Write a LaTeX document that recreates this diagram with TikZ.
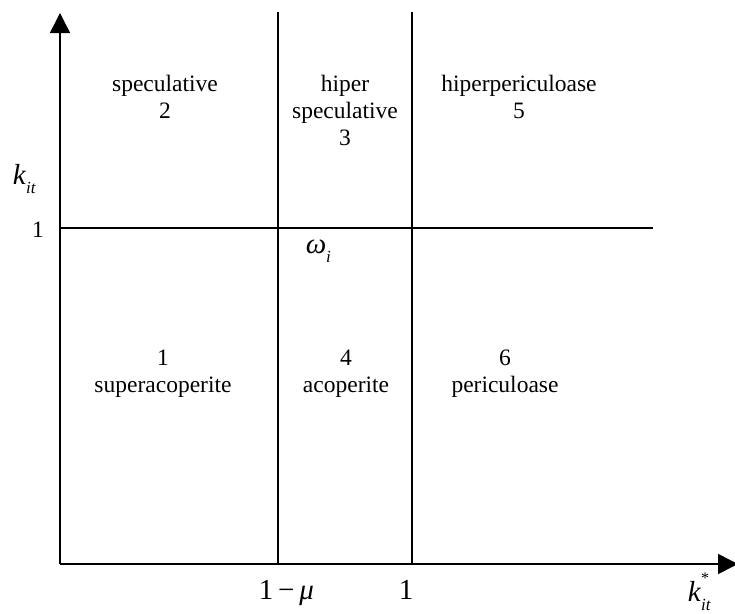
\documentclass[tikz,border=0pt]{standalone}
\usepackage{fontspec}
\setmainfont{Liberation Serif}
\usetikzlibrary{arrows.meta}

\newcommand{\lowsub}[1]{\raisebox{-0.32em}{\fontsize{17}{17}\selectfont\itshape #1}}
\newcommand{\highsup}[1]{\raisebox{0.62em}{\fontsize{16}{16}\selectfont #1}}

\begin{document}
\begin{tikzpicture}[x=1pt, y=-1pt, line width=1.5pt,
    zone/.style={align=center, anchor=north, inner sep=0pt, font=\fontsize{23.5}{27}\selectfont},
    axlabel/.style={inner sep=0pt, anchor=base, font=\fontsize{29}{31}\selectfont},
    axis/.style={-{Triangle[length=20pt,width=20pt]}}]
  \useasboundingbox (0,0) rectangle (735,613);

  % axes
  \coordinate (O) at (60,564);
  \coordinate (ytop) at (60,13);
  \coordinate (xend) at (738,564);
  \draw[axis] (O) -- (ytop);
  \draw[axis] (O) -- (xend);

  % region borders
  \coordinate (a1) at (278,12);
  \coordinate (a2) at (278,564);
  \coordinate (b1) at (412,12);
  \coordinate (b2) at (412,564);
  \coordinate (h1) at (60,228);
  \coordinate (h2) at (653,228);
  \draw (a1) -- (a2);
  \draw (b1) -- (b2);
  \draw (h1) -- (h2);

  % regions
  \node[zone] (r2) at (165,74) {speculative\\2};
  \node[zone] (r3) at (345,74) {hiper\\speculative\\3};
  \node[zone] (r5) at (519,74) {hiperpericuloase\\5};
  \node[zone] (r1) at (163,349) {1\\superacoperite};
  \node[zone] (r4) at (346,349) {4\\acoperite};
  \node[zone] (r6) at (505,349) {6\\periculoase};

  % axis labels
  \node[axlabel, anchor=base west] (ky) at (12,184) {\textit{k}\lowsub{it}};
  \node[axlabel, font=\fontsize{23.5}{27}\selectfont] (one y) at (38,237) {1};
  \node[axlabel, anchor=base west] (om) at (305,253) {\textit{ω}\lowsub{i}};
  \node[axlabel, anchor=base west] (mu) at (258,599) {1\,−\,\textit{μ}};
  \node[axlabel] (one x) at (406,599) {1};
  \node[axlabel, anchor=base west] (kx) at (687,601)
    {\textit{k}\rlap{\highsup{*}}\lowsub{it}};
\end{tikzpicture}
\end{document}
